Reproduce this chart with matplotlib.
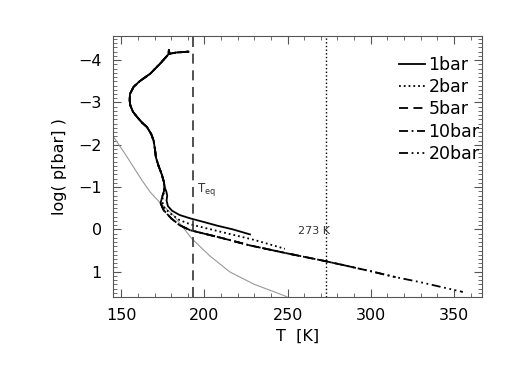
import matplotlib
matplotlib.use("Agg")
import matplotlib.pyplot as plt
from matplotlib.ticker import MultipleLocator

# shared upper atmosphere profile (T [K], log p [bar])
t_upper = [190.4, 183.0, 179.0, 178.6, 178.4, 173.4, 167.4, 161.0, 157.4, 155.2,
           155.0, 155.4, 157.0, 159.4, 162.5, 165.4, 168.0, 169.4, 170.2, 170.8,
           172.4, 174.3, 175.6, 176.0]
p_upper = [-4.20, -4.18, -4.15, -4.24, -4.14, -3.92, -3.68, -3.50, -3.37, -3.20,
           -3.05, -2.93, -2.78, -2.66, -2.52, -2.42, -2.25, -2.10, -1.90, -1.70,
           -1.50, -1.30, -1.12, -1.00]

# lower parts per surface pressure
t_1bar = [177.0, 177.6, 177.2, 178.0, 180.5, 185.0, 191.4, 200.0, 207.4, 217.0, 227.4]
p_1bar = [-0.90, -0.80, -0.68, -0.55, -0.44, -0.34, -0.26, -0.17, -0.09, 0.00, 0.12]
t_2bar = [175.8, 175.0, 174.6, 176.0, 180.0, 185.0, 191.4, 210.0, 230.0, 248.4]
p_2bar = [-0.90, -0.78, -0.65, -0.50, -0.36, -0.22, -0.12, 0.06, 0.25, 0.46]
t_low = [175.6, 174.5, 173.6, 175.5, 180.0, 185.0, 191.4, 210.0, 227.4, 250.0,
         271.3, 283.0, 300.0, 315.0, 330.0, 355.4]
p_low = [-0.90, -0.76, -0.62, -0.45, -0.26, -0.10, 0.02, 0.20, 0.38, 0.57,
         0.74, 0.84, 0.99, 1.13, 1.25, 1.48]
t_end = {"5bar": 283.0, "10bar": 315.0, "20bar": 355.4}

# gray reference curve
t_gray = [145.4, 152.0, 162.4, 167.4, 174.0, 181.4, 192.4, 203.0, 215.4, 230.0, 249.5]
p_gray = [-2.18, -1.80, -1.16, -0.88, -0.60, -0.33, 0.22, 0.62, 1.01, 1.30, 1.59]

t_eq = 193.0
t_freeze = 273.0

fig = plt.figure(figsize=(5.17, 3.69), dpi=100)
ax = fig.add_axes([0.2186, 0.195, 0.714, 0.7074])

lw = 1.3
ax.plot(t_gray, p_gray, color='#999999', lw=0.8)
ax.plot(t_upper + t_1bar, p_upper + p_1bar, color='black', lw=lw, ls='-', label='1bar')
ax.plot(t_upper + t_2bar, p_upper + p_2bar, color='black', lw=lw, ls=':', label='2bar')
styles = {"5bar": (0, (5, 3)), "10bar": (0, (5, 2, 1, 2)), "20bar": (0, (5, 2, 1, 2, 1, 2, 1, 2))}
for name in ["5bar", "10bar", "20bar"]:
    tt = [t for t in t_low if t <= t_end[name] + 0.01]
    pp = p_low[:len(tt)]
    ax.plot(t_upper + tt, p_upper + pp, color='black', lw=lw, ls=styles[name], label=name)

ax.axvline(t_eq, color='#333333', ls=(0, (6, 4)), lw=1.2)
ax.axvline(t_freeze, color='black', ls=':', lw=1.0)
ax.text(t_eq + 2.3, -0.88, r'T$_{\rm eq}$', fontsize=8.5, color='#333333')
ax.text(256, 0.1, '273 K', fontsize=8, color='#333333')

ax.set_xlim(145, 367)
ax.set_ylim(1.6, -4.57)
ax.xaxis.set_major_locator(MultipleLocator(50))
ax.xaxis.set_minor_locator(MultipleLocator(10))
ax.yaxis.set_major_locator(MultipleLocator(1))
ax.yaxis.set_minor_locator(MultipleLocator(0.1))
ax.tick_params(which='both', direction='in', top=True, right=True, colors='#555555',
               labelcolor='black', labelsize=11.5)
ax.tick_params(which='major', length=6, pad=8)
ax.tick_params(which='minor', length=3)
for s in ax.spines.values():
    s.set_color('#555555')
    s.set_linewidth(0.8)

ax.set_xlabel('T  [K]', fontsize=11.5)
ax.set_ylabel('log( p[bar] )', fontsize=11.5, labelpad=8)

ax.legend(loc='upper left', bbox_to_anchor=(0.775, 0.925), frameon=False, fontsize=12.5,
          handlelength=1.5, handletextpad=0.2, labelspacing=0.25, borderpad=0,
          borderaxespad=0)

fig.savefig('out.png', dpi=100, facecolor='white')
